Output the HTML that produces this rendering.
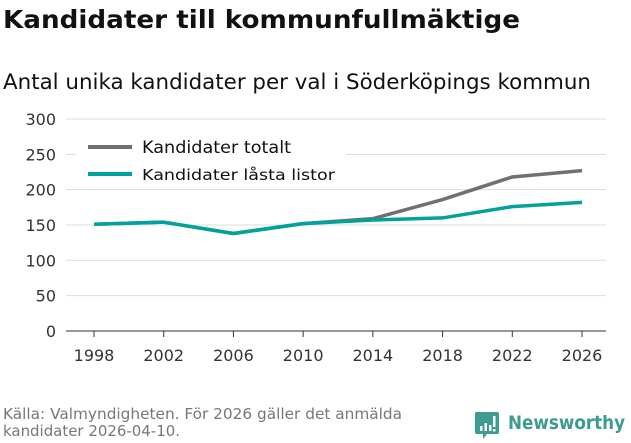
<!DOCTYPE html>
<html><head><meta charset="utf-8"><style>
body{margin:0;width:631px;height:439px;background:#fff;font-family:"DejaVu Sans","Liberation Sans",sans-serif;overflow:hidden}
svg text{font-family:"DejaVu Sans","Liberation Sans",sans-serif}
</style></head><body>
<svg width="631" height="439">
<text x="3" y="28" font-size="25" font-weight="bold" fill="#111" textLength="517" lengthAdjust="spacingAndGlyphs">Kandidater till kommunfullmäktige</text>
<text x="3" y="89" font-size="21" fill="#111" textLength="588" lengthAdjust="spacingAndGlyphs">Antal unika kandidater per val i Söderköpings kommun</text>
<g id="grid"></g><g id="xt"></g><g id="lines"></g>
<rect x="76" y="129" width="270" height="60" fill="#fff"/>
<line x1="88" y1="147" x2="132" y2="147" stroke="#6f6f75" stroke-width="4"/>
<text x="142" y="153" font-size="17" fill="#111" textLength="149" lengthAdjust="spacingAndGlyphs">Kandidater totalt</text>
<line x1="88" y1="174" x2="132" y2="174" stroke="#00a39a" stroke-width="4"/>
<text x="142" y="180" font-size="15.5" fill="#111" textLength="193" lengthAdjust="spacingAndGlyphs">Kandidater låsta listor</text>
<text x="3" y="419" font-size="15" fill="#777" textLength="399" lengthAdjust="spacingAndGlyphs">Källa: Valmyndigheten. För 2026 gäller det anmälda</text>
<text x="3" y="436" font-size="15" fill="#777" textLength="177" lengthAdjust="spacingAndGlyphs">kandidater 2026-04-10.</text>
<g>
<path d="M477 412 h20 a2 2 0 0 1 2 2 v18 a2 2 0 0 1 -2 2 h-10 l-4 5 v-5 h-6 a2 2 0 0 1 -2 -2 v-18 a2 2 0 0 1 2 -2z" fill="#3d9b8f"/>
<rect x="480" y="426" width="2.5" height="5" fill="#fff"/><rect x="484.5" y="423" width="2.5" height="8" fill="#fff"/><rect x="489" y="425" width="2.5" height="6" fill="#fff"/><rect x="493" y="416" width="2.5" height="11" fill="#fff"/><rect x="493" y="429" width="2.5" height="2.5" fill="#fff"/>
<text x="508" y="429" font-size="19" font-weight="bold" fill="#3d9b8f" textLength="117" lengthAdjust="spacingAndGlyphs">Newsworthy</text>
</g>
</svg>
<script>
const years=[1998,2002,2006,2010,2014,2018,2022,2026];
const totalt=[151,154,138,152,159,186,218,227];
const lasta=[151,154,138,152,157,160,176,182];
const yTicks=[0,50,100,150,200,250,300];
const ns="http://www.w3.org/2000/svg";
const X=v=>94+(v-1998)*(582-94)/28;
const Y=v=>331-v*(331-119)/300;
function el(t,a,p){const e=document.createElementNS(ns,t);for(const k in a)e.setAttribute(k,a[k]);document.getElementById(p).appendChild(e);return e;}
yTicks.forEach(t=>{
 const l=el('line',{x1:66,x2:606,y1:Y(t),y2:Y(t),stroke:t===0?'#333':'#ddd','stroke-width':1},'grid');
 
 
 const tx=el('text',{x:56,y:Y(t)+6,'text-anchor':'end','font-size':16,fill:'#333'},'grid');tx.textContent=t;
 
 
});
years.forEach(y=>{
 const l=el('line',{x1:X(y),x2:X(y),y1:331,y2:337,stroke:'#333'},'xt');
 
 
 const tx=el('text',{x:X(y),y:361,'text-anchor':'middle','font-size':16,fill:'#333'},'xt');tx.textContent=y;
 
 
});
[[totalt,'#6f6f75','line-totalt'],[lasta,'#00a39a','line-lasta']].forEach(([d,c,n])=>{
 const p=el('polyline',{points:d.map((v,i)=>X(years[i])+','+Y(v)).join(' '),fill:'none',stroke:c,'stroke-width':3.5,'stroke-linejoin':'round'},'lines');
 
 
});
</script>
</body></html>
